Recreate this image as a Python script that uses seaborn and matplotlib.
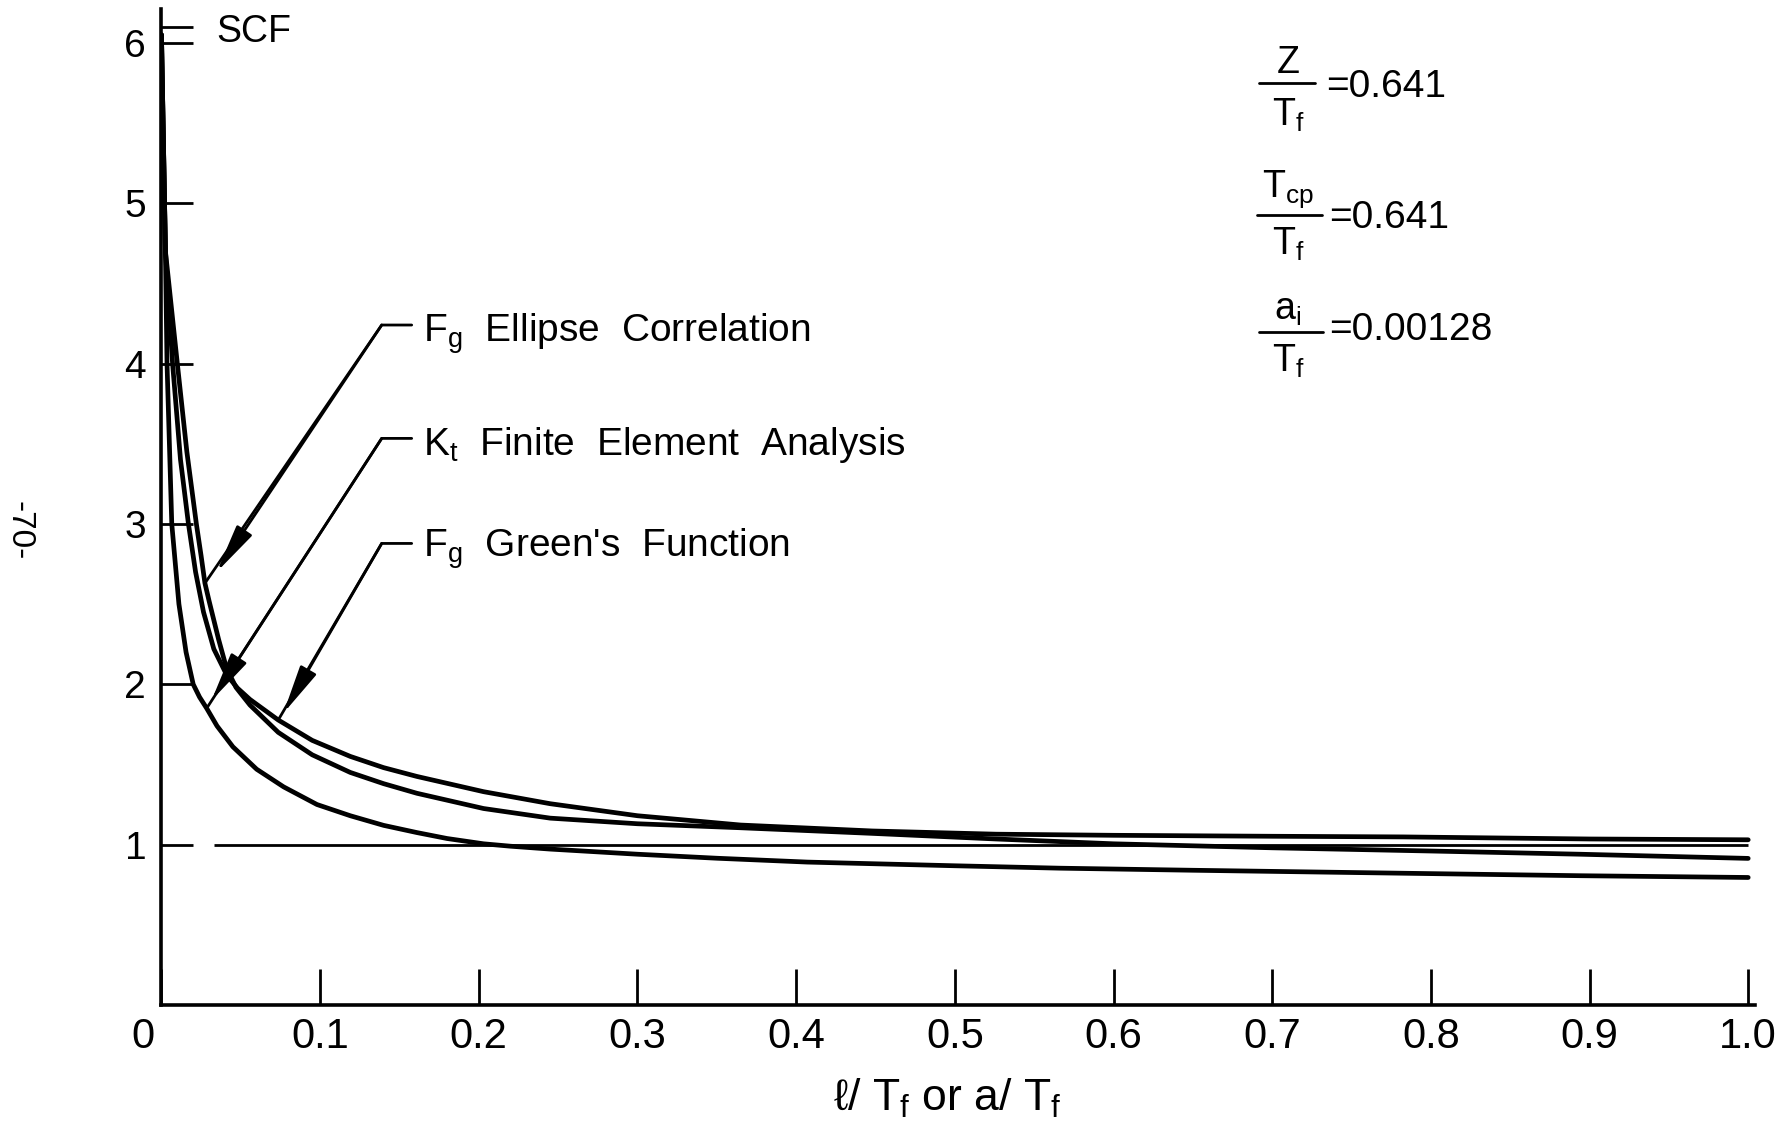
import matplotlib
matplotlib.use("Agg")
import matplotlib.pyplot as plt
import matplotlib.transforms as mtransforms
import numpy as np
import pandas as pd
import seaborn as sns

# ---------------- data ----------------
ellipse_x = [0.0, 0.0025, 0.010, 0.016, 0.022, 0.025, 0.0274, 0.0300, 0.036, 0.041,
             0.047, 0.0558, 0.0736, 0.095, 0.119, 0.14, 0.161, 0.203, 0.245, 0.30,
             0.365, 0.448, 0.526, 0.60, 0.70, 0.80, 0.894, 1.0]
ellipse_y = [6.05, 4.70, 4.00, 3.45, 3.00, 2.80, 2.63, 2.52, 2.28, 2.10,
             1.98, 1.87, 1.70, 1.56, 1.45, 1.38, 1.32, 1.225, 1.165, 1.13,
             1.105, 1.07, 1.035, 1.005, 0.98, 0.96, 0.94, 0.914]

kt_x = [0.0, 0.0025, 0.0035, 0.0065, 0.0110, 0.0155, 0.020, 0.024, 0.0285, 0.035,
        0.045, 0.06, 0.077, 0.098, 0.119, 0.14, 0.161, 0.18, 0.203, 0.22, 0.245,
        0.30, 0.35, 0.407, 0.50, 0.566, 0.65, 0.75, 0.894, 1.0]
kt_y = [6.05, 4.70, 4.00, 3.00, 2.50, 2.20, 2.00, 1.92, 1.85, 1.74,
        1.61, 1.47, 1.36, 1.25, 1.18, 1.12, 1.075, 1.038, 1.005, 0.99, 0.972,
        0.940, 0.915, 0.891, 0.868, 0.853, 0.84, 0.826, 0.806, 0.795]

green_x = [0.0, 0.0025, 0.0070, 0.012, 0.017, 0.0215, 0.0265, 0.033, 0.041, 0.048,
           0.0558, 0.0736, 0.095, 0.119, 0.14, 0.161, 0.203, 0.245, 0.30, 0.365,
           0.448, 0.526, 0.60, 0.70, 0.7825, 0.90, 1.0]
green_y = [6.05, 4.70, 4.00, 3.40, 3.00, 2.70, 2.45, 2.22, 2.06, 1.975,
           1.905, 1.777, 1.65, 1.55, 1.48, 1.425, 1.33, 1.255, 1.18, 1.122,
           1.085, 1.065, 1.058, 1.052, 1.048, 1.035, 1.03]

series_names = ["Ellipse Correlation", "Finite Element Analysis", "Green's Function"]

x_ticks = [0.0, 0.1, 0.2, 0.3, 0.4, 0.5, 0.6, 0.7, 0.8, 0.9, 1.0]
x_tick_labels = ["0", "0.1", "0.2", "0.3", "0.4", "0.5", "0.6", "0.7", "0.8", "0.9", "1.0"]
y_ticks = [1, 2, 3, 4, 5, 6]
y_tick_labels = ["1", "2", "3", "4", "5", "6"]
scf_mark = 6.1
reference_level = 1.0

label_texts = [r"F$_g$  Ellipse  Correlation",
               r"K$_t$  Finite  Element  Analysis",
               r"F$_g$  Green's  Function"]
# points on the curves where the leaders end
leader_targets = [(0.0274, 2.63), (0.0285, 1.85), (0.0736, 1.777)]

# ---------------- styling ----------------
sns.set_theme(style="white")
plt.rcParams['font.family'] = ['Liberation Sans', 'DejaVu Sans']
plt.rcParams['mathtext.default'] = 'regular'
plt.rcParams['axes.unicode_minus'] = False
plt.rcParams['text.color'] = 'black'
plt.rcParams['xtick.color'] = 'black'
plt.rcParams['ytick.color'] = 'black'
plt.rcParams['axes.labelcolor'] = 'black'

fig = plt.figure(figsize=(17.9, 11.24), dpi=100)
fig.patch.set_facecolor("white")
ax = fig.add_axes([0.0902, 0.1059, 0.890, 0.886])

df = pd.concat([
    pd.DataFrame({"x": ellipse_x, "y": ellipse_y, "curve": series_names[0]}),
    pd.DataFrame({"x": kt_x, "y": kt_y, "curve": series_names[1]}),
    pd.DataFrame({"x": green_x, "y": green_y, "curve": series_names[2]}),
], ignore_index=True)

sns.lineplot(data=df, x="x", y="y", hue="curve", palette=["black"] * 3,
             estimator=None, sort=False, legend=False, linewidth=3.4, ax=ax)

# reference line at SCF = 1
ax.hlines(reference_level, 0.033, 1.0, colors="black", linewidth=2.0)

ax.set_xlim(0, 1.004)
ax.set_ylim(0, 6.21)
ax.set_xlabel("")
ax.set_ylabel("")
ax.set_facecolor("white")

for s in ["top", "right"]:
    ax.spines[s].set_visible(False)
for s in ["left", "bottom"]:
    ax.spines[s].set_color("black")
    ax.spines[s].set_linewidth(2.6)

ax.set_xticks(x_ticks)
ax.set_xticklabels(x_tick_labels, fontsize=30)
ax.set_yticks(y_ticks)
ax.set_yticklabels(y_tick_labels, fontsize=28)
ax.set_yticks([scf_mark], minor=True)
ax.tick_params(axis="x", which="major", bottom=True, direction="in", length=26,
               width=2.0, color="black", pad=9, labelcolor="black")
ax.tick_params(axis="y", which="major", left=True, direction="in", length=23,
               width=2.0, color="black", pad=11, labelcolor="black")
ax.tick_params(axis="y", which="minor", left=True, direction="in", length=23,
               width=2.0, color="black")

# the "0" label sits a little left of the origin in the original
first_lbl = ax.get_xticklabels()[0]
first_lbl.set_transform(first_lbl.get_transform() +
                        mtransforms.ScaledTranslation(-0.19, 0, fig.dpi_scale_trans))

# SCF label
ax.text(0.0348, 6.006, "SCF", fontsize=27, ha="left", va="baseline")

# leaders with arrows
corner_x = 0.1388
hend_x = 0.1577
text_x = 0.165
corner_ys = [4.24, 3.533, 2.878]
text_ys = [4.135, 3.43, 2.795]
arrow_tips = [(0.0348, 2.70), (0.0316, 1.90), (0.0768, 1.819)]
for lbl, (tx, ty), cy, tyy, tip in zip(label_texts, leader_targets, corner_ys,
                                       text_ys, arrow_tips):
    ax.plot([tx, corner_x, hend_x], [ty, cy, cy], color="black", linewidth=2.0,
            solid_joinstyle="miter")
    ax.annotate("", xy=tip, xytext=(corner_x, cy),
                arrowprops=dict(arrowstyle="-|>,head_length=1.5,head_width=0.28",
                                color="black", lw=2.0, shrinkA=0, shrinkB=0,
                                mutation_scale=20))
    ax.text(text_x, tyy, lbl, fontsize=28, ha="left", va="baseline")

# parameter fractions (upper right)
fs = 27
def fraction(num, num_y, bar_y, bar_x0, bar_x1, den_y, val, val_x, val_y, cx):
    ax.text(cx, num_y, num, fontsize=fs, ha="center", va="baseline")
    ax.plot([bar_x0, bar_x1], [bar_y, bar_y], color="black", linewidth=2.0)
    ax.text(cx, den_y, r"T$_f$", fontsize=fs, ha="center", va="baseline")
    ax.text(val_x, val_y, val, fontsize=fs + 1, ha="left", va="baseline")

fraction("Z", 5.81, 5.751, 0.6918, 0.7270, 5.480, "=0.641", 0.7340, 5.663, 0.7100)
fraction(r"T$_{cp}$", 5.039, 4.925, 0.6905, 0.7317, 4.680, "=0.641", 0.7360, 4.842, 0.7100)
fraction(r"a$_i$", 4.271, 4.198, 0.6918, 0.7321, 3.95, "=0.00128", 0.7360, 4.146, 0.7100)

# x axis label
fig.text(0.529, 0.012, r"ℓ/ T$_f$ or a/ T$_f$", fontsize=32, ha="center",
         va="baseline")

# page number
fig.text(19 / 1790, 1 - 531 / 1124, "-70-", rotation=270, fontsize=24,
         ha="center", va="center")

fig.savefig("out.png", dpi=100, facecolor="white")
